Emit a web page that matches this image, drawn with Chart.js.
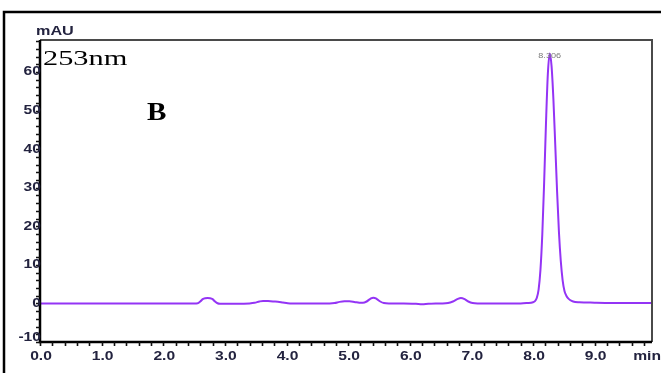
<!DOCTYPE html>
<html>
<head>
<meta charset="utf-8">
<script src="https://cdn.jsdelivr.net/npm/chart.js@4/dist/chart.umd.min.js"></script>
<style>
  html, body { margin: 0; padding: 0; background: #fff; }
  #wrap { width: 661px; height: 373px; position: relative; }
</style>
</head>
<body>
<div id="wrap"><canvas id="c" width="661" height="373"></canvas></div>
<script>
// Retention time (min) and detector response (mAU) at 253 nm
const timeMin = [
  0.00, 0.50, 1.00, 1.50, 2.00, 2.50, 2.56, 2.60, 2.64, 2.68, 2.72, 2.76, 2.80, 2.84, 2.88, 2.92,
  3.00, 3.20, 3.40, 3.48, 3.56, 3.62, 3.70, 3.78, 3.86, 3.94, 4.02, 4.10, 4.40, 4.70, 4.78, 4.86,
  4.94, 5.02, 5.10, 5.18, 5.24, 5.30, 5.36, 5.41, 5.46, 5.52, 5.58, 5.66, 5.90, 6.10, 6.20, 6.30,
  6.50, 6.62, 6.70, 6.77, 6.83, 6.89, 6.95, 7.02, 7.10, 7.50, 7.80, 7.90, 8.00, 8.03, 8.06, 8.09,
  8.12, 8.15, 8.18, 8.21, 8.24, 8.27, 8.30, 8.33, 8.36, 8.39, 8.42, 8.45, 8.48, 8.51, 8.54, 8.57,
  8.60, 8.65, 8.75, 9.00, 9.50, 9.93
];
const absorbance = [
  0.0, 0.0, 0.0, 0.0, 0.0, 0.0, 0.05, 0.5, 1.1, 1.35, 1.4, 1.35, 1.1, 0.5, 0.05, -0.1,
  -0.1, -0.1, 0.0, 0.15, 0.5, 0.65, 0.6, 0.5, 0.45, 0.25, 0.05, 0.0, 0.0, 0.0, 0.1, 0.4,
  0.55, 0.55, 0.4, 0.2, 0.15, 0.5, 1.2, 1.5, 1.2, 0.5, 0.1, 0.0, 0.0, -0.1, -0.2, -0.1,
  0.0, 0.1, 0.5, 1.1, 1.4, 1.1, 0.5, 0.1, 0.0, 0.0, 0.0, 0.1, 0.3, 0.6, 1.4, 3.6,
  8.7, 17.9, 31.4, 46.8, 59.5, 64.8, 61.6, 53.0, 41.2, 29.0, 18.5, 11.0, 6.0, 3.2, 2.0, 1.3,
  0.9, 0.5, 0.3, 0.2, 0.1, 0.1
];

// Axis ticks and labels
const xTickValues = [0, 1, 2, 3, 4, 5, 6, 7, 8, 9];
const xTickLabels = ['0.0', '1.0', '2.0', '3.0', '4.0', '5.0', '6.0', '7.0', '8.0', '9.0'];
const yTickValues = [-10, 0, 10, 20, 30, 40, 50, 60];
const yTickLabels = ['-10', '0', '10', '20', '30', '40', '50', '60'];
const xMinorStep = 0.2;
const yMinorStep = 2;

// Annotations
const wavelengthLabel = '253nm';
const panelLabel = 'B';
const yUnit = 'mAU';
const xUnit = 'min';
const peakTime = 8.27;
const peakHeight = 64.8;
const peakLabel = '8.306';

const LABEL_COLOR = '#23233f';
const SX = 1.25; // horizontal stretch of the label text

function stretchText(ctx, text, x, y, align, sx) {
  ctx.save();
  ctx.translate(x, y);
  ctx.scale(sx, 1);
  ctx.textAlign = align;
  ctx.fillText(text, 0, 0);
  ctx.restore();
}

const frame = {
  id: 'frame',
  afterDatasetsDraw(chart) {
    const ctx = chart.ctx;
    const a = chart.chartArea;
    const xs = chart.scales.x, ys = chart.scales.y;
    ctx.save();

    // outer page frame (left and top edges)
    ctx.strokeStyle = '#000';
    ctx.lineWidth = 2.5;
    ctx.beginPath();
    ctx.moveTo(4, 373);
    ctx.lineTo(4, 12);
    ctx.lineTo(661, 12);
    ctx.stroke();

    // top and right border of the plot box
    ctx.strokeStyle = '#4a4a4a';
    ctx.lineWidth = 2;
    ctx.beginPath();
    ctx.moveTo(a.left, a.top);
    ctx.lineTo(a.right, a.top);
    ctx.lineTo(a.right, a.bottom);
    ctx.stroke();

    // axis lines
    ctx.strokeStyle = '#000';
    ctx.lineWidth = 2.5;
    ctx.beginPath();
    ctx.moveTo(a.left, a.top);
    ctx.lineTo(a.left, a.bottom);
    ctx.lineTo(a.right, a.bottom);
    ctx.stroke();

    // tick marks
    ctx.lineWidth = 1.6;
    ctx.strokeStyle = '#111';
    ctx.beginPath();
    for (let i = 0; ; i++) {
      const v = i * xMinorStep;
      if (v > xs.max + 1e-9) break;
      const px = Math.round(xs.getPixelForValue(v)) + 0.5;
      ctx.moveTo(px, a.bottom);
      ctx.lineTo(px, a.bottom + 4);
    }
    for (let i = 0; ; i++) {
      const v = ys.min + i * yMinorStep;
      if (v > ys.max + 1e-9) break;
      const py = Math.round(ys.getPixelForValue(v)) + 0.5;
      ctx.moveTo(a.left, py);
      ctx.lineTo(a.left - 4, py);
    }
    ctx.stroke();

    // tick labels
    ctx.fillStyle = LABEL_COLOR;
    ctx.font = 'bold 12.5px "Liberation Sans", Arial, sans-serif';
    ctx.textBaseline = 'middle';
    xTickValues.forEach((v, i) => {
      stretchText(ctx, xTickLabels[i], xs.getPixelForValue(v) + 1, a.bottom + 15, 'center', SX);
    });
    stretchText(ctx, xUnit, 661, a.bottom + 15, 'right', SX);
    yTickValues.forEach((v, i) => {
      const py = Math.min(ys.getPixelForValue(v), a.bottom - 4);
      stretchText(ctx, yTickLabels[i], a.left + 1, py, 'right', SX);
    });
    ctx.font = 'bold 12px "Liberation Sans", Arial, sans-serif';
    stretchText(ctx, yUnit, 36, 32, 'left', 1.35);

    // wavelength and panel labels
    ctx.fillStyle = '#000';
    ctx.textBaseline = 'alphabetic';
    ctx.font = '22px "Liberation Serif", "Times New Roman", serif';
    stretchText(ctx, wavelengthLabel, 43, 65, 'left', 1.38);
    ctx.font = 'bold 26px "Liberation Serif", "Times New Roman", serif';
    stretchText(ctx, panelLabel, 147, 120, 'left', 1.12);

    // retention time over the main peak
    ctx.fillStyle = '#7a7a7a';
    ctx.font = '7px "Liberation Sans", Arial, sans-serif';
    ctx.textBaseline = 'middle';
    stretchText(ctx, peakLabel, xs.getPixelForValue(peakTime), ys.getPixelForValue(peakHeight) + 3, 'center', 1.3);

    ctx.restore();
  }
};

new Chart(document.getElementById('c'), {
  type: 'line',
  data: {
    datasets: [{
      data: timeMin.map((t, i) => ({ x: t, y: absorbance[i] })),
      borderColor: '#9434f5',
      borderWidth: 2,
      pointRadius: 0,
      cubicInterpolationMode: 'monotone',
      fill: false
    }]
  },
  options: {
    responsive: false,
    animation: false,
    layout: { padding: { left: 40, top: 40, right: 9, bottom: 31 } },
    plugins: { legend: { display: false }, tooltip: { enabled: false } },
    scales: {
      x: { type: 'linear', min: 0, max: 9.93, display: false },
      y: { type: 'linear', min: -10, max: 68.3, display: false }
    }
  },
  plugins: [frame]
});
</script>
</body>
</html>
